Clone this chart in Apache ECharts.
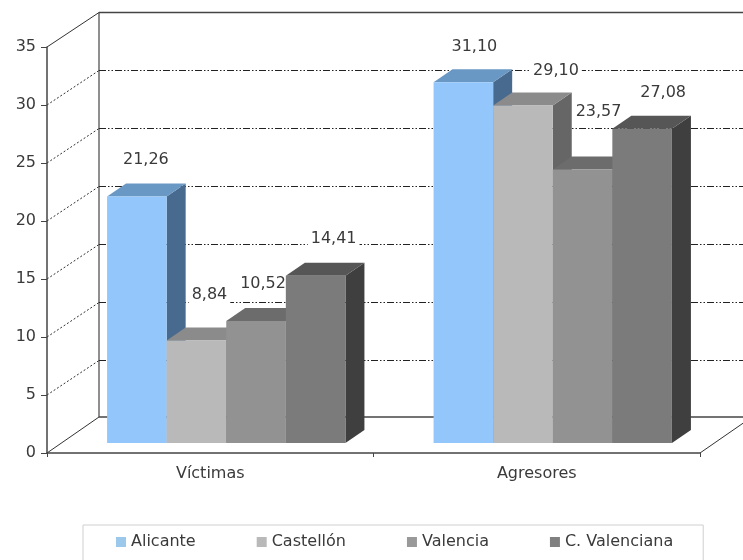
<!DOCTYPE html>
<html>
<head>
<meta charset="utf-8">
<style>html,body{margin:0;padding:0;background:#fff}#c{width:743px;height:560px}</style>
<script src="https://cdn.jsdelivr.net/npm/echarts@6/dist/echarts.min.js"></script>
</head>
<body>
<div id="c"></div>
<script>
var categories = ['Víctimas', 'Agresores'];
var alicante = [21.26, 31.10];
var castellon = [8.84, 29.10];
var valencia = [10.52, 23.57];
var cValenciana = [14.41, 27.08];
var yTicks = [0, 5, 10, 15, 20, 25, 30, 35];

var FONT = '16px "DejaVu Sans"';
var WALL = {dx: 52, dy: -34.5, floorDy: -36};
var FLOOR = {dx: 16, dy: -10};
var DEPTH = {dx: 19, dy: -13};
var BAR_RATIO = 0.1825;
var RIGHT_EDGE = 760;

var styles = [
  {name: 'Alicante', data: alicante, front: '#93c7fc', top: '#6a98c4', side: '#486a8e', key: '#9cc8ec', nudge: [[9, -37], [11, -35]]},
  {name: 'Castellón', data: castellon, front: '#b9b9b9', top: '#8b8b8b', side: '#666666', key: '#b9b9b9', nudge: [[13, -46], [33, -35]]},
  {name: 'Valencia', data: valencia, front: '#929292', top: '#6c6c6c', side: '#505050', key: '#999999', nudge: [[7, -37], [16, -58]]},
  {name: 'C. Valenciana', data: cValenciana, front: '#7b7b7b', top: '#565656', side: '#3f3f3f', key: '#808080', nudge: [[18, -37], [21, -36]]}
];

function poly(points, fill) {
  return {type: 'polygon', shape: {points: points}, style: {fill: fill, stroke: null}};
}

function barRenderer(seriesIndex) {
  var s = styles[seriesIndex];
  return function (params, api) {
    var i = api.value(0), v = api.value(1);
    var base = api.coord([i, 0]), head = api.coord([i, v]);
    var w = api.size([1, 0])[0] * BAR_RATIO;
    var x0 = base[0] + FLOOR.dx + (seriesIndex - 2) * w, x1 = x0 + w;
    var yb = base[1] + FLOOR.dy, yt = head[1] + FLOOR.dy;
    var d = DEPTH;
    var n = s.nudge[i];
    return {type: 'group', children: [
      poly([[x1, yt], [x1 + d.dx, yt + d.dy], [x1 + d.dx, yb + d.dy], [x1, yb]], s.side),
      poly([[x0, yt], [x0 + d.dx, yt + d.dy], [x1 + d.dx, yt + d.dy], [x1, yt]], s.top),
      poly([[x0, yt], [x1, yt], [x1, yb], [x0, yb]], s.front),
      {type: 'text', z2: 100, style: {
        x: (x0 + x1) / 2 + n[0], y: yt + n[1], text: v.toFixed(2).replace('.', ','),
        font: FONT, fill: '#3a3a3a', align: 'center', verticalAlign: 'middle',
        backgroundColor: '#fff', padding: [1, 3]
      }}
    ]};
  };
}

function wallRenderer(params, api) {
  var v = api.value(0);
  var sys = params.coordSys;
  var y = api.coord([0, v])[1], x = sys.x;
  var bx = x + WALL.dx, by = y + (v === 0 ? WALL.floorDy : WALL.dy);
  var solid = v === 0 || v === 35;
  var children = [
    {type: 'line', shape: {x1: x, y1: y, x2: bx, y2: by},
     style: {stroke: '#333', lineWidth: 1, lineDash: solid ? null : [2, 2]}},
    {type: 'line', shape: {x1: bx, y1: by, x2: RIGHT_EDGE, y2: by},
     style: {stroke: solid ? '#444' : '#222', lineWidth: solid ? 1.3 : 1, lineDash: solid ? null : [7, 2, 1.5, 2, 1.5, 2]}}
  ];
  if (v === 0) {
    var fx = sys.x + sys.width;
    var wallTop = api.coord([0, 35])[1] + WALL.dy;
    children.push({type: 'line', shape: {x1: fx, y1: y, x2: fx + WALL.dx, y2: by}, style: {stroke: '#333', lineWidth: 1}});
    children.push({type: 'line', shape: {x1: bx, y1: by, x2: bx, y2: wallTop}, style: {stroke: '#444', lineWidth: 1.2}});
  }
  return {type: 'group', children: children};
}

var series = [{
  type: 'custom', name: 'wall', z: 1, silent: true,
  data: yTicks.map(function (t) { return [t]; }),
  encode: {x: -1, y: 0},
  renderItem: wallRenderer
}];
styles.forEach(function (s, k) {
  series.push({
    type: 'custom', name: s.name, z: 2 + k,
    itemStyle: {color: s.key},
    data: s.data.map(function (v, i) { return [i, v]; }),
    encode: {x: 0, y: 1},
    renderItem: barRenderer(k)
  });
});

var chart = echarts.init(document.getElementById('c'), null, {renderer: 'canvas'});
chart.setOption({
  animation: false,
  backgroundColor: '#fff',
  grid: {left: 47, right: 43, top: 47, bottom: 107},
  xAxis: {
    type: 'category', data: categories, boundaryGap: true, z: 20,
    axisLine: {show: true, lineStyle: {color: '#444', width: 1.5}},
    axisTick: {show: true, alignWithLabel: false, length: 4, lineStyle: {color: '#444'}},
    axisLabel: {color: '#3a3a3a', fontFamily: 'DejaVu Sans', fontSize: 16, margin: 13},
    splitLine: {show: false}
  },
  yAxis: {
    type: 'value', min: 0, max: 35, interval: 5, z: 20,
    axisLine: {show: true, lineStyle: {color: '#444', width: 1.5}},
    axisTick: {show: true, length: 6, lineStyle: {color: '#444'}},
    axisLabel: {color: '#3a3a3a', fontFamily: 'DejaVu Sans', fontSize: 16, margin: 11},
    splitLine: {show: false}
  },
  legend: {
    data: styles.map(function (s) { return s.name; }),
    left: 83, top: 525,
    padding: [9, 30, 14, 33],
    itemGap: 61, itemWidth: 10, itemHeight: 10,
    icon: 'rect',
    borderColor: '#cfcfcf', borderWidth: 1,
    textStyle: {color: '#3a3a3a', fontFamily: 'DejaVu Sans', fontSize: 16}
  },
  series: series
});
</script>
</body>
</html>
